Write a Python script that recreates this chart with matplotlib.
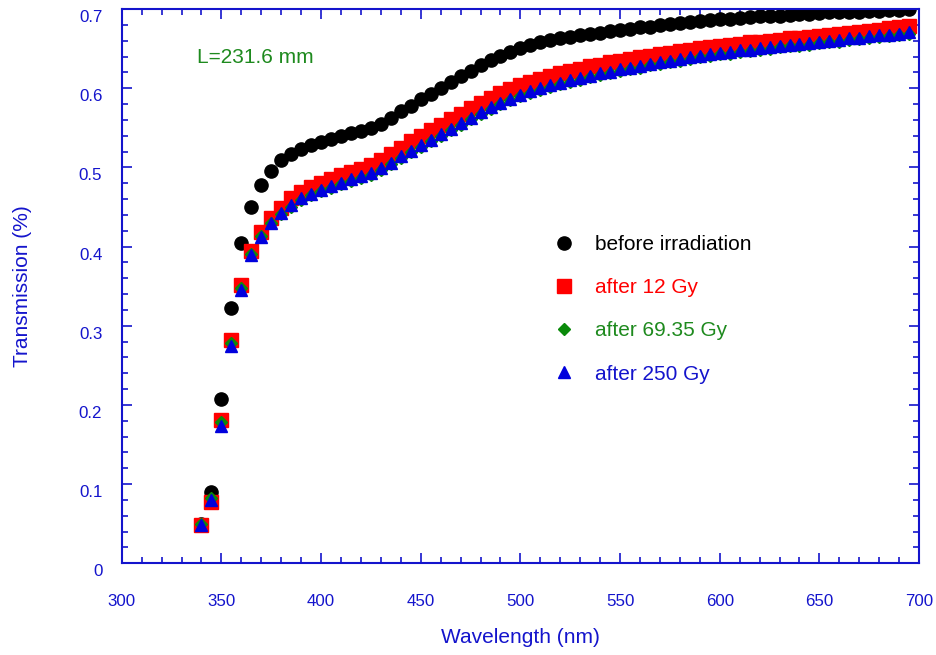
import matplotlib
matplotlib.use('Agg')
import matplotlib.pyplot as plt
import matplotlib.transforms as mtransforms
from matplotlib.ticker import MultipleLocator

plt.rcParams['font.family'] = ['Liberation Sans', 'DejaVu Sans']

# wavelength (nm), one reading every 5 nm
wavelength = list(range(340, 700, 5))

before = [0.050, 0.090, 0.207, 0.322, 0.405, 0.450, 0.478, 0.496, 0.509, 0.517,
          0.523, 0.528, 0.532, 0.536, 0.540, 0.543, 0.546, 0.550, 0.555, 0.563,
          0.571, 0.578, 0.586, 0.593, 0.600, 0.608, 0.615, 0.622, 0.629, 0.636,
          0.641, 0.646, 0.651, 0.655, 0.658, 0.661, 0.663, 0.665, 0.667, 0.669,
          0.670, 0.672, 0.674, 0.675, 0.677, 0.678, 0.680, 0.681, 0.683, 0.684,
          0.685, 0.686, 0.687, 0.688, 0.689, 0.690, 0.691, 0.692, 0.692, 0.693,
          0.694, 0.694, 0.695, 0.696, 0.696, 0.697, 0.697, 0.698, 0.698, 0.699,
          0.699, 0.700]

gy12 = [0.049, 0.077, 0.181, 0.282, 0.351, 0.395, 0.419, 0.436, 0.449, 0.461,
        0.469, 0.475, 0.481, 0.485, 0.490, 0.494, 0.498, 0.503, 0.509, 0.517,
        0.525, 0.533, 0.540, 0.547, 0.554, 0.561, 0.568, 0.575, 0.582, 0.588,
        0.594, 0.599, 0.604, 0.608, 0.612, 0.616, 0.619, 0.622, 0.625, 0.628,
        0.630, 0.633, 0.635, 0.637, 0.639, 0.641, 0.643, 0.645, 0.647, 0.649,
        0.651, 0.652, 0.654, 0.655, 0.656, 0.658, 0.659, 0.660, 0.661, 0.663,
        0.664, 0.665, 0.666, 0.667, 0.669, 0.670, 0.671, 0.673, 0.674, 0.676,
        0.677, 0.679]

gy69 = [0.050, 0.083, 0.178, 0.278, 0.348, 0.391, 0.414, 0.430, 0.441, 0.450,
        0.459, 0.465, 0.470, 0.474, 0.479, 0.483, 0.487, 0.491, 0.497, 0.504,
        0.512, 0.519, 0.526, 0.533, 0.540, 0.547, 0.554, 0.561, 0.568, 0.574,
        0.580, 0.585, 0.590, 0.594, 0.598, 0.602, 0.605, 0.608, 0.611, 0.614,
        0.617, 0.619, 0.622, 0.624, 0.626, 0.629, 0.631, 0.633, 0.635, 0.637,
        0.639, 0.641, 0.643, 0.644, 0.646, 0.647, 0.649, 0.650, 0.652, 0.653,
        0.654, 0.655, 0.657, 0.658, 0.659, 0.661, 0.662, 0.664, 0.665, 0.666,
        0.667, 0.669]

gy250 = [0.049, 0.080, 0.174, 0.275, 0.345, 0.389, 0.412, 0.430, 0.442, 0.452,
         0.461, 0.467, 0.472, 0.476, 0.481, 0.485, 0.489, 0.493, 0.499, 0.506,
         0.514, 0.521, 0.528, 0.535, 0.542, 0.549, 0.556, 0.563, 0.570, 0.576,
         0.582, 0.587, 0.592, 0.596, 0.600, 0.604, 0.607, 0.610, 0.613, 0.616,
         0.619, 0.621, 0.624, 0.626, 0.628, 0.631, 0.633, 0.635, 0.637, 0.639,
         0.641, 0.643, 0.645, 0.646, 0.648, 0.649, 0.651, 0.652, 0.654, 0.655,
         0.656, 0.657, 0.659, 0.660, 0.661, 0.663, 0.664, 0.666, 0.667, 0.668,
         0.669, 0.671]

blue = '#1414CC'
green = '#1E8A1E'

fig = plt.figure(figsize=(9.37, 6.55), dpi=100)
ax = fig.add_axes([0.1299, 0.140, 0.851, 0.846])

ax.plot(wavelength, before, 'o', color='black', ms=9.5, mec='black', label='before irradiation')
ax.plot(wavelength, gy12, 's', color='red', ms=9.5, mec='red', label='after 12 Gy')
ax.plot(wavelength, gy69, 'D', color='#0A8A0A', ms=6.5, mec='#0A8A0A', label='after 69.35 Gy')
ax.plot(wavelength, gy250, '^', color='#0000DD', ms=9, mec='#0000DD', label='after 250 Gy')

ax.set_xlim(300, 700)
ax.set_ylim(0, 0.7)
ax.xaxis.set_major_locator(MultipleLocator(50))
ax.xaxis.set_minor_locator(MultipleLocator(10))
ax.yaxis.set_major_locator(MultipleLocator(0.1))
ax.yaxis.set_minor_locator(MultipleLocator(0.02))
ax.set_yticks([0, 0.1, 0.2, 0.3, 0.4, 0.5, 0.6, 0.7])
ax.set_yticklabels(['0', '0.1', '0.2', '0.3', '0.4', '0.5', '0.6', '0.7'])

for s in ax.spines.values():
    s.set_color(blue)
    s.set_linewidth(1.5)
ax.tick_params(which='both', direction='in', top=True, right=True, colors=blue,
               labelsize=12.2, width=1.2)
ax.tick_params(which='major', length=7)
ax.tick_params(which='minor', length=4)
ax.tick_params(axis='x', which='major', pad=22)
ax.tick_params(axis='y', which='major', pad=14)

# shift y tick labels a bit downward, like the original
shift = mtransforms.ScaledTranslation(0, -0.07, fig.dpi_scale_trans)
for lbl in ax.get_yticklabels():
    lbl.set_transform(lbl.get_transform() + shift)

ax.set_xlabel('Wavelength (nm)', fontsize=15, color=blue)
ax.set_ylabel('Transmission (%)', fontsize=15, color=blue)
ax.xaxis.set_label_coords(0.5, -0.116)
ax.yaxis.set_label_coords(-0.113, 0.5)

ax.text(0.095, 0.912, 'L=231.6 mm', transform=ax.transAxes, fontsize=15, color=green,
        ha='left', va='center')

leg = ax.legend(loc='upper left', bbox_to_anchor=(0.529, 0.611), frameon=False,
                fontsize=15, handlelength=1.0, handletextpad=0.95, labelspacing=1.16,
                borderpad=0, numpoints=1)
for txt, c in zip(leg.get_texts(), ['black', 'red', green, blue]):
    txt.set_color(c)

fig.savefig('out.png', dpi=100)
